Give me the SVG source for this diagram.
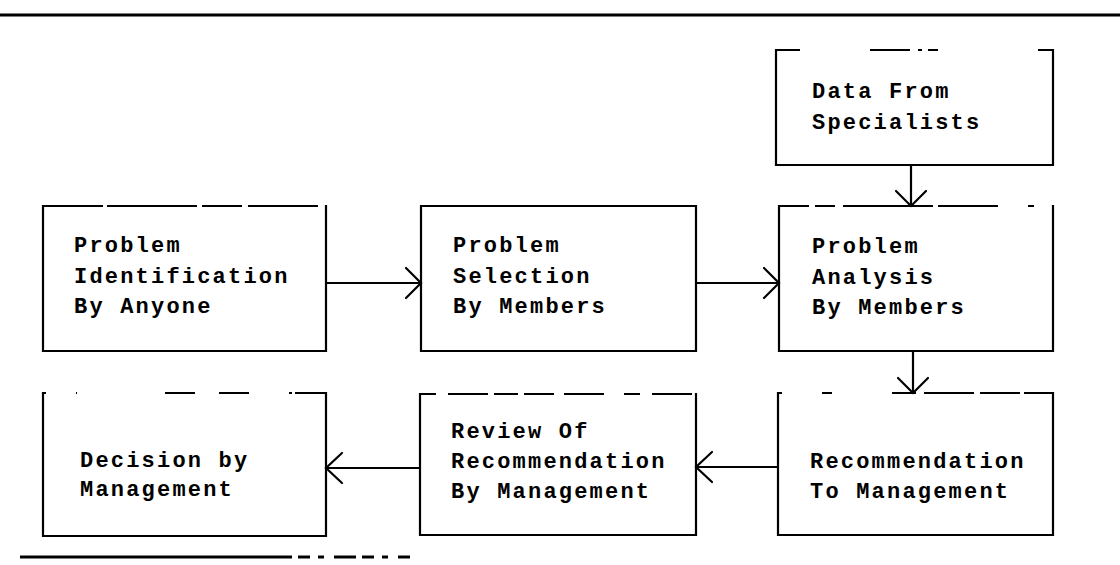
<svg xmlns="http://www.w3.org/2000/svg" width="1120" height="565" viewBox="0 0 1120 565">
<style>
.bg{fill:#fff}
.edge{fill:none;stroke:#000;stroke-width:2.2;stroke-linecap:square}
.faint{fill:none;stroke:#000;stroke-width:2}
.rule{stroke:#000;stroke-width:3;fill:none}
.conn{fill:none;stroke:#000;stroke-width:2.2}
.head{fill:none;stroke:#000;stroke-width:2.2;stroke-linecap:round}
text{font-family:"Liberation Mono","DejaVu Sans Mono",monospace;font-weight:bold;font-size:22px;letter-spacing:2.2px;fill:#000}
</style>
<rect class="bg" x="0" y="0" width="1120" height="565"/>
<line class="rule" x1="0" y1="15" x2="1120" y2="15"/>
<path class="rule" d="M20 557 H270"/>
<path class="rule" d="M270 557 H410" stroke-dasharray="22 6 12 8 6 10"/>

<g id="data-from-specialists">
<path class="edge" d="M776 50 V165 H1053 V50"/>
<path class="faint" d="M776 50 H1053" stroke-dasharray="24 70 40 8 4 6 10 100"/>
<text x="812" y="98">Data From</text>
<text x="812" y="129">Specialists</text>
</g>

<g id="problem-identification">
<path class="edge" d="M43 206 V351 H326 V206"/>
<path class="faint" d="M43 206 H326" stroke-dasharray="60 4 90 5 40 6 70"/>
<text x="74" y="252">Problem</text>
<text x="74" y="283">Identification</text>
<text x="74" y="313">By Anyone</text>
</g>

<g id="problem-selection">
<path class="edge" d="M421 206 V351 H696 V206 Z"/>
<text x="453" y="252">Problem</text>
<text x="453" y="283">Selection</text>
<text x="453" y="313">By Members</text>
</g>

<g id="problem-analysis">
<path class="edge" d="M779 206 V351 H1053 V206"/>
<path class="faint" d="M779 206 H1053" stroke-dasharray="30 6 20 8 90 5 60"/>
<text x="812" y="253">Problem</text>
<text x="812" y="284">Analysis</text>
<text x="812" y="314">By Members</text>
</g>

<g id="recommendation-to-management">
<path class="edge" d="M778 393 V535 H1053 V393"/>
<path class="faint" d="M778 393 H1053" stroke-dasharray="4 40 10 60 24 8 50 6 40"/>
<text x="810" y="468">Recommendation</text>
<text x="810" y="498">To Management</text>
</g>

<g id="review-of-recommendation">
<path class="edge" d="M420 394 V535 H696 V394"/>
<path class="faint" d="M420 394 H696" stroke-dasharray="16 12 40 6 24 6 30 10 40 20"/>
<text x="451" y="438">Review Of</text>
<text x="451" y="468">Recommendation</text>
<text x="451" y="498">By Management</text>
</g>

<g id="decision-by-management">
<path class="edge" d="M43 393 V536 H326 V393"/>
<path class="faint" d="M43 393 H326" stroke-dasharray="3 30 1 88 30 24 30 40 3"/>
<text x="80" y="467">Decision by</text>
<text x="80" y="496">Management</text>
</g>

<g id="connectors">
<line class="conn" x1="326" y1="283" x2="421" y2="283"/>
<path class="head" d="M406 268 L421 283 L406 298"/>
<line class="conn" x1="696" y1="283" x2="779" y2="283"/>
<path class="head" d="M764 268 L779 283 L764 298"/>
<line class="conn" x1="911" y1="165" x2="911" y2="206"/>
<path class="head" d="M896 191 L911 206 L926 191"/>
<line class="conn" x1="913" y1="351" x2="913" y2="393"/>
<path class="head" d="M898 378 L913 393 L928 378"/>
<line class="conn" x1="778" y1="467" x2="696" y2="467"/>
<path class="head" d="M712 452 L696 467 L712 482"/>
<line class="conn" x1="420" y1="468" x2="326" y2="468"/>
<path class="head" d="M342 453 L326 468 L342 483"/>
</g>
</svg>
